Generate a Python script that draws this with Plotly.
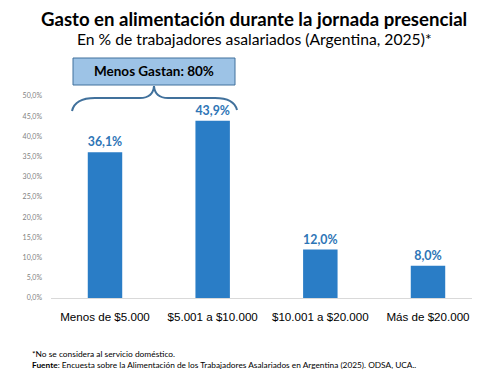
import plotly.graph_objects as go

categories = ["Menos de $5.000", "$5.001 a $10.000", "$10.001 a $20.000", "Más de $20.000"]
values = [36.1, 43.9, 12.0, 8.0]
labels = ["36,1%", "43,9%", "12,0%", "8,0%"]
tick_vals = [0, 5, 10, 15, 20, 25, 30, 35, 40, 45, 50]
tick_text = ["0,0%", "5,0%", "10,0%", "15,0%", "20,0%", "25,0%", "30,0%",
             "35,0%", "40,0%", "45,0%", "50,0%"]

OFF = 8  # page body margin
W, H = 464, 366
L, R, T, B = 43, 0, 88, 76
PW, PH = W - L - R, H - T - B

def px(x):  # x in reference page pixels
    return (x - OFF - L) / PW

def py(y):
    return (H - B - (y - OFF)) / PH

FONT = "Lato"

fig = go.Figure()
fig.add_trace(go.Bar(
    x=categories, y=values, text=labels, textposition="outside",
    textfont=dict(family=FONT, size=12.5, color="#2E75B6", weight="bold"),
    marker=dict(color="#2A7DC6", line=dict(width=0)),
    width=0.32, cliponaxis=False,
))

def P(x, y):
    return f"{px(x):.5f},{py(y):.5f}"

path = (f"M {P(72,111)} Q {P(75,98)} {P(95,98)} L {P(140,98)} Q {P(153,98)} {P(154,86)} "
        f"Q {P(155,98)} {P(168,98)} L {P(215,98)} Q {P(234,98)} {P(237,110)}")
fig.add_shape(type="path", path=path, xref="paper", yref="paper",
              line=dict(color="#41719C", width=2))
fig.add_shape(type="rect", xref="paper", yref="paper",
              x0=px(73), x1=px(235), y0=py(85), y1=py(58),
              fillcolor="#9DC3E6", line=dict(color="#41719C", width=1))

def note(x, y, text, size, xanchor="center"):
    fig.add_annotation(x=px(x), y=py(y), xref="paper", yref="paper",
                       xanchor=xanchor, yanchor="middle", text=text, showarrow=False,
                       font=dict(family=FONT, size=size, color="#000000"))

note(154, 71.5, "<b>Menos Gastan: 80%</b>", 13.5)
note(254, 19, "<b>Gasto en alimentación durante la jornada presencial</b>", 18.6)
note(254, 39, "En % de trabajadores asalariados (Argentina, 2025)*", 15.7)
note(30, 354, "*No se considera al servicio doméstico.", 8.4, xanchor="left")
note(30, 365, "<b>Fuente</b>: Encuesta sobre la Alimentación de los Trabajadores "
              "Asalariados en Argentina (2025). ODSA, UCA..", 8.3, xanchor="left")

fig.update_layout(
    width=W, height=H, margin=dict(l=L, r=R, t=T, b=B, pad=0),
    paper_bgcolor="white", plot_bgcolor="white", showlegend=False,
    separators=",.",
    xaxis=dict(range=[-0.5015, 3.4087], showgrid=False, showline=True,
               linecolor="#D9D9D9", linewidth=1, ticks="",
               tickfont=dict(family="Liberation Sans", size=11.6, color="#000000"),
               ticklabelstandoff=8),
    yaxis=dict(range=[0, 50], tickvals=tick_vals, ticktext=tick_text,
               showgrid=False, zeroline=False, showline=False, ticks="",
               tickfont=dict(family=FONT, size=7, color="#7F7F7F"),
               ticklabelstandoff=8),
)
fig.write_html("out.html")
